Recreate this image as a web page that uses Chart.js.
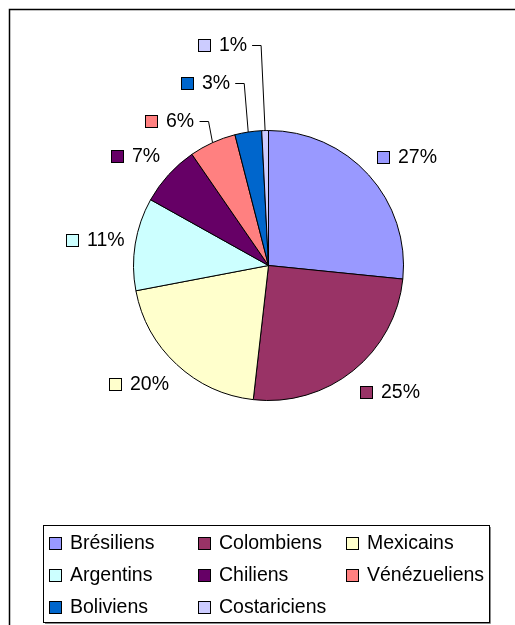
<!DOCTYPE html>
<html>
<head>
<meta charset="utf-8">
<script src="https://cdn.jsdelivr.net/npm/chart.js@4"></script>
<style>
  body { margin: 0; background: #fff; }
  canvas { display: block; }
</style>
</head>
<body>
<canvas id="pie" width="515" height="625"></canvas>
<script>
const labels = ['Brésiliens', 'Colombiens', 'Mexicains', 'Argentins', 'Chiliens', 'Vénézueliens', 'Boliviens', 'Costariciens'];
const values = [26.6, 25.2, 20.2, 11.1, 7.3, 5.6, 3.2, 0.8];
const colors = ['#9999FF', '#993366', '#FFFFCC', '#CCFFFF', '#660066', '#FF8080', '#0066CC', '#CCCCFF'];

const FONT = '19.5px "Liberation Sans", Arial, sans-serif';

function swatch(ctx, x, y, color) {
    ctx.fillStyle = color;
    ctx.fillRect(x, y - 6, 12, 12);
    ctx.strokeStyle = '#000';
    ctx.lineWidth = 1;
    ctx.strokeRect(x + 0.5, y - 5.5, 12, 12);
}

// percent labels, leader lines, legend box and outer frame
const decorations = {
    id: 'decorations',
    afterDraw(chart) {
        const ctx = chart.ctx;
        const arcs = chart.getDatasetMeta(0).data;
        const total = values.reduce((a, b) => a + b, 0);
        ctx.save();
        ctx.font = FONT;
        ctx.textBaseline = 'middle';

        ctx.strokeStyle = '#000';
        ctx.lineWidth = 1.5;
        ctx.strokeRect(9.5, 9.5, 530, 640);

        let prevY = null;
        arcs.forEach((arc, i) => {
            const share = values[i] / total;
            const pct = Math.round(share * 100) + '%';
            const mid = (arc.startAngle + arc.endAngle) / 2;
            const dx = Math.cos(mid), dy = Math.sin(mid);
            const w = 21 + ctx.measureText(pct).width;
            let x0, y;
            if (share < 0.065) {
                // small slices: stacked upward with a leader line
                const ax = arc.x + dx * arc.outerRadius;
                const ay = arc.y + dy * arc.outerRadius;
                y = prevY === null ? ay - 22 : Math.min(ay - 22, prevY - 38);
                prevY = y;
                x0 = ax - 18 - w;
                ctx.strokeStyle = '#000';
                ctx.lineWidth = 1;
                ctx.beginPath();
                ctx.moveTo(x0 + w + 5, Math.round(y) + 0.5);
                ctx.lineTo(ax - 4, Math.round(y) + 0.5);
                ctx.lineTo(ax, ay);
                ctx.stroke();
            } else {
                x0 = arc.x + dx * 146 + Math.sign(dx) * w / 2 - w / 2;
                y = arc.y + dy * 162;
            }
            swatch(ctx, Math.round(x0), Math.round(y), colors[i]);
            ctx.fillStyle = '#000';
            ctx.fillText(pct, Math.round(x0) + 21, Math.round(y) + 1);
        });

        // legend
        ctx.fillStyle = '#fff';
        ctx.fillRect(43, 525, 447, 98);
        ctx.strokeStyle = '#000';
        ctx.lineWidth = 1;
        ctx.strokeRect(43.5, 525.5, 446, 97);
        ctx.strokeStyle = '#888';
        ctx.beginPath();
        ctx.moveTo(490.5, 527);
        ctx.lineTo(490.5, 623.5);
        ctx.lineTo(45, 623.5);
        ctx.stroke();
        labels.forEach((name, i) => {
            const col = i % 3, row = Math.floor(i / 3);
            const x = 49 + Math.round(col * 148.5);
            const y = 543 + row * 32;
            swatch(ctx, x, y, colors[i]);
            ctx.fillStyle = '#000';
            ctx.fillText(name, x + 21, y + 1);
        });
        ctx.restore();
    }
};

new Chart(document.getElementById('pie'), {
    type: 'pie',
    data: {
        labels: labels,
        datasets: [{
            data: values,
            backgroundColor: colors,
            borderColor: '#000',
            borderWidth: 1
        }]
    },
    options: {
        responsive: false,
        animation: false,
        layout: { padding: { left: 133, right: 111, top: 130, bottom: 224 } },
        plugins: {
            legend: { display: false },
            tooltip: { enabled: false }
        }
    },
    plugins: [decorations]
});
</script>
</body>
</html>
